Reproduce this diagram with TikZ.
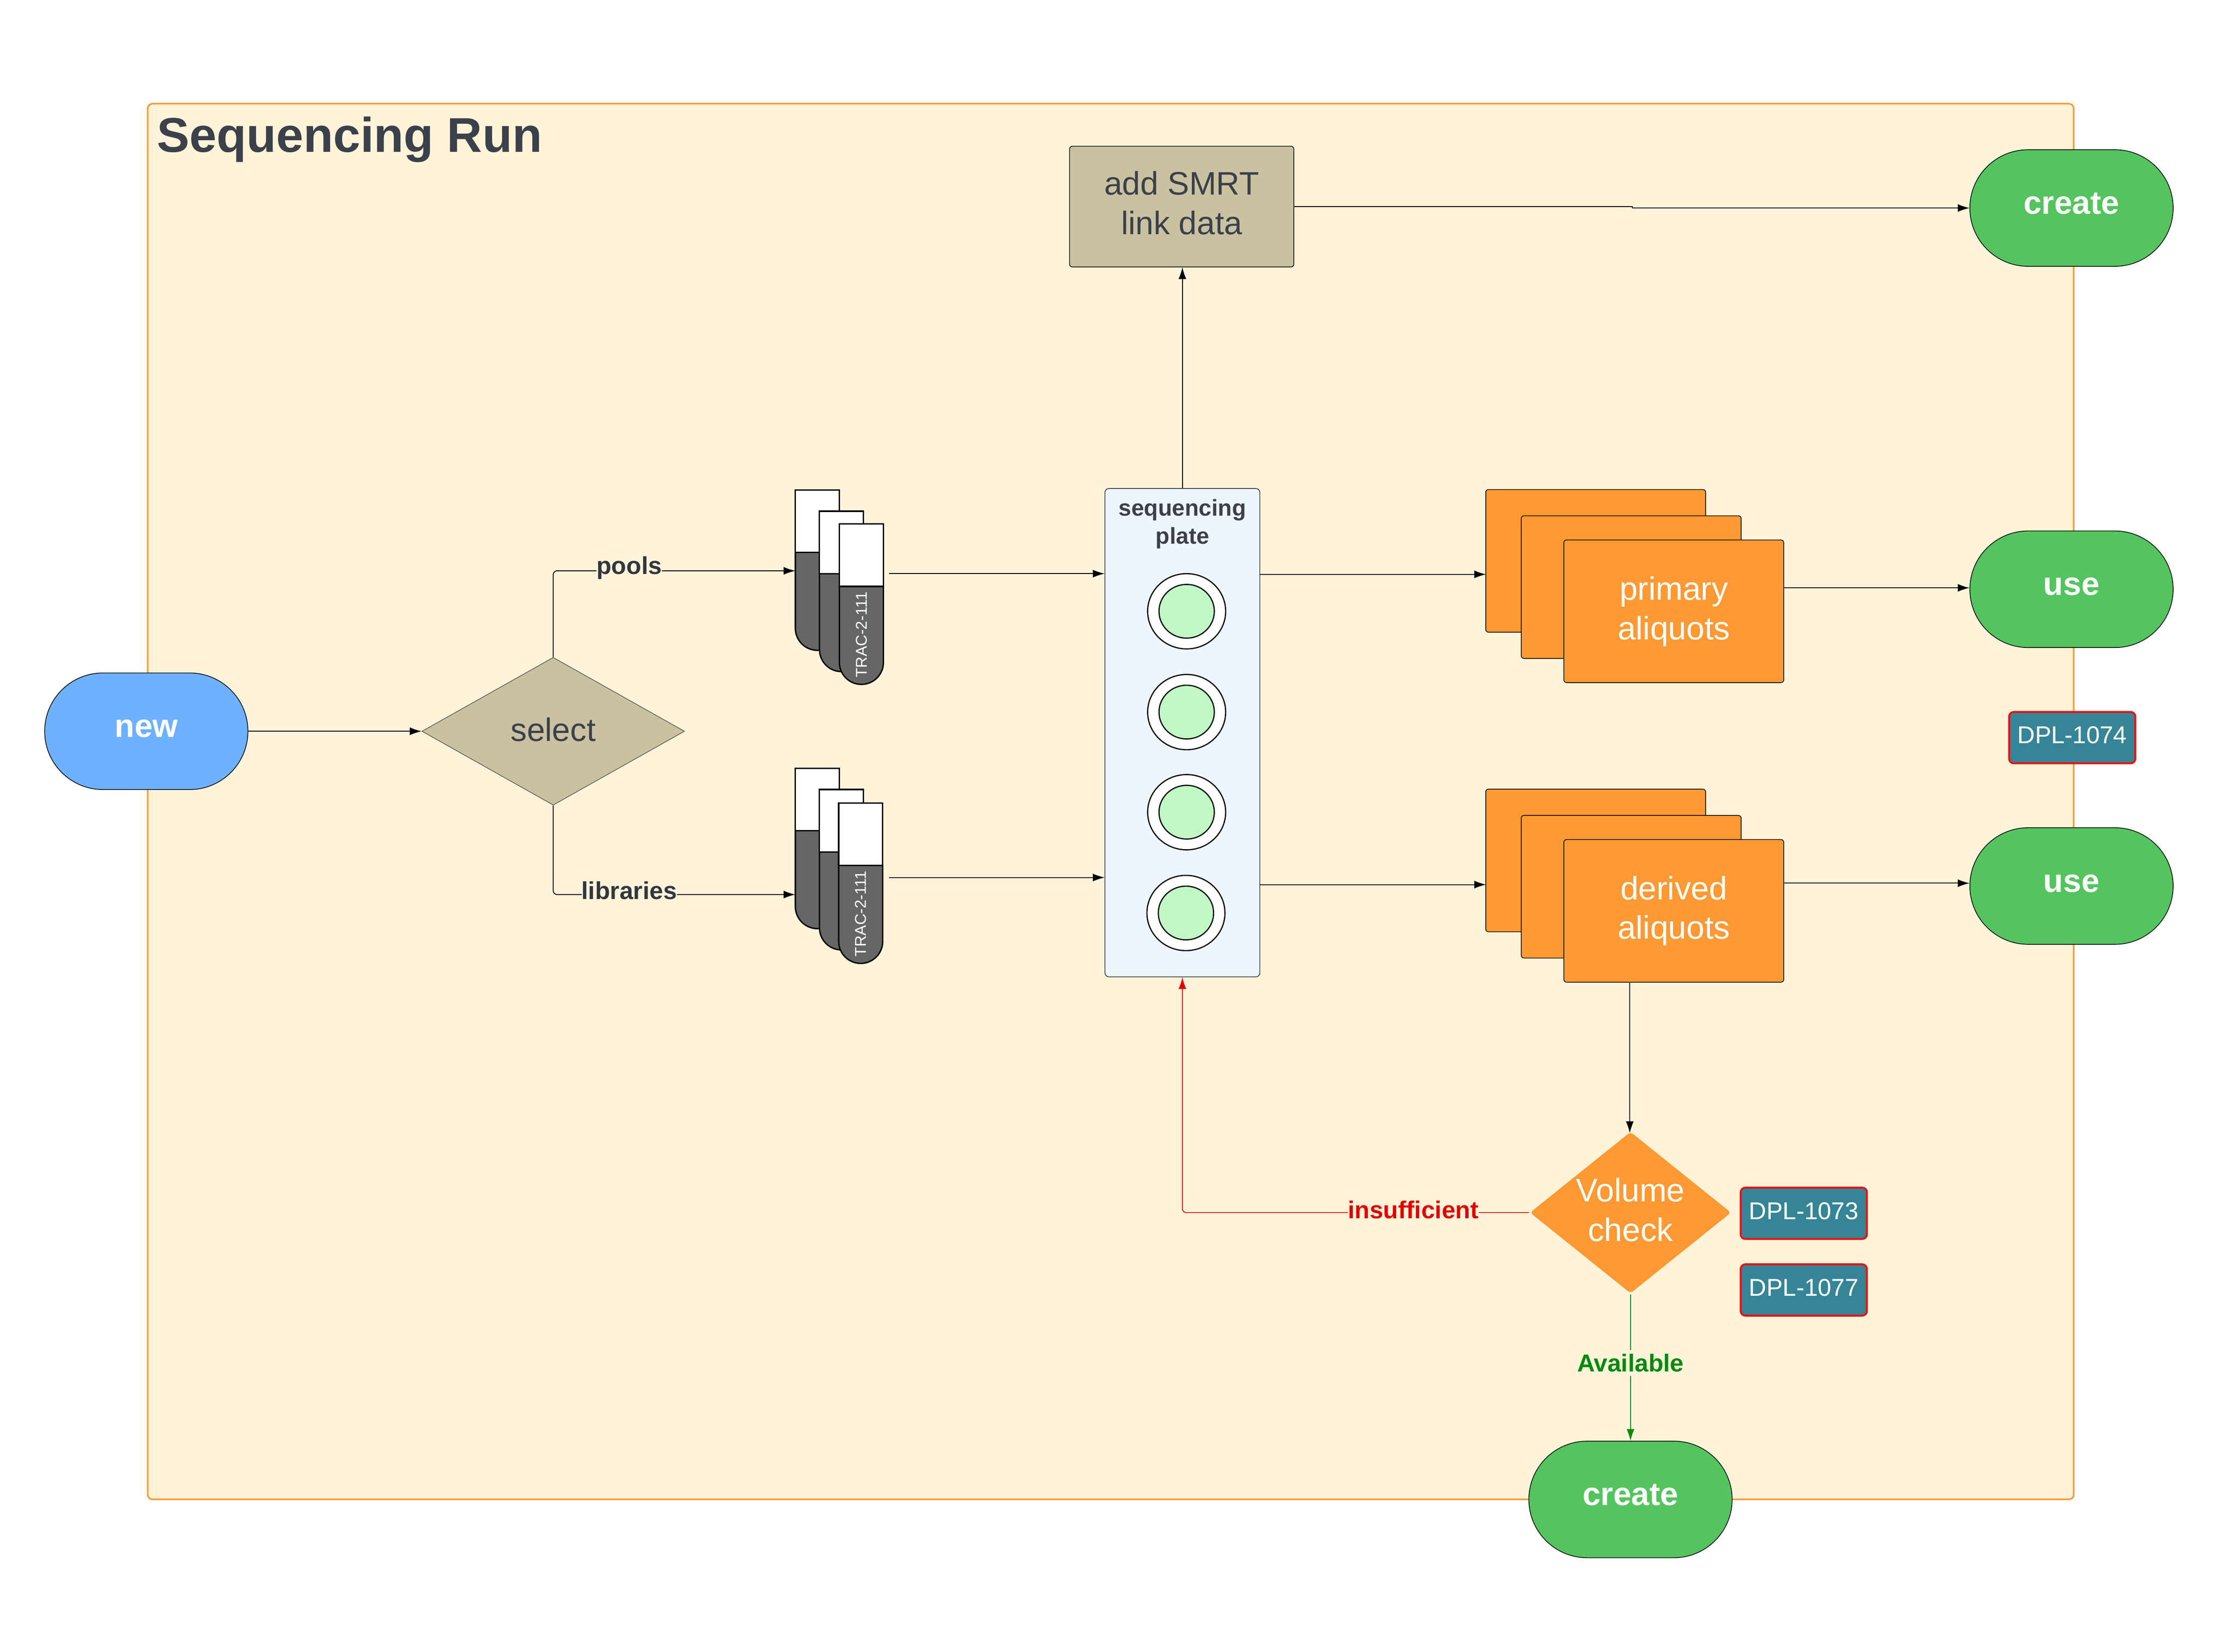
\documentclass[tikz,border=0pt]{standalone}
\usepackage{fontspec}
\setmainfont{Liberation Sans}
\usetikzlibrary{arrows.meta,shapes.geometric,shapes.misc}
\definecolor{framefill}{HTML}{FFF3D9}
\definecolor{frameline}{HTML}{FF9933}
\definecolor{inktext}{HTML}{3A414A}
\definecolor{startblue}{HTML}{6DB1FF}
\definecolor{endgreen}{HTML}{54C45E}
\definecolor{tan}{HTML}{C9C1A0}
\definecolor{platefill}{HTML}{EDF5FF}
\definecolor{wellgreen}{HTML}{C1F7C5}
\definecolor{tagfill}{HTML}{358597}
\definecolor{tagline}{HTML}{E81313}
\definecolor{okgreen}{HTML}{008A0E}
\definecolor{badred}{HTML}{E00000}
\definecolor{tubegrey}{HTML}{666666}
\tikzset{
  conn/.style={line width=0.22pt, -{Latex[length=3pt,width=2pt]}},
  terminal/.style={rounded rectangle, draw=black, line width=0.18pt, minimum width=51.85pt, minimum height=29.75pt, inner sep=0pt, text=white, font=\fontsize{8.3pt}{10pt}\selectfont\bfseries, text height=3pt, text depth=0pt},
  stack/.style={rectangle, rounded corners=0.7pt, draw=black, line width=0.18pt, fill=frameline, minimum width=56.1pt, minimum height=36.4pt, inner sep=0pt, text=white, align=center, font=\fontsize{8.3pt}{10.1pt}\selectfont},
  tag/.style={rectangle, rounded corners=1.2pt, draw=tagline, line width=0.5pt, fill=tagfill, minimum width=32.2pt, minimum height=13.1pt, inner sep=0pt, text=white, font=\fontsize{6.2pt}{7pt}\selectfont, text height=3pt, text depth=0pt},
  edgelabel/.style={fill=framefill, inner xsep=0pt, inner ysep=1pt, font=\fontsize{6.25pt}{7pt}\selectfont\bfseries},
  wellouter/.style={ellipse, draw=black, line width=0.3pt, fill=white, minimum width=19.9pt, minimum height=19.2pt, inner sep=0pt},
  wellinner/.style={ellipse, draw=black, line width=0.3pt, fill=wellgreen, minimum width=14.1pt, minimum height=13.7pt, inner sep=0pt},
  tubetop/.style={draw=black, line width=0.35pt, fill=white},
  tubebody/.style={draw=black, line width=0.35pt, fill=tubegrey},
}
\newcommand{\tube}[3]{
  \draw[tubebody] (#1,#2+44) -- (#1+31,#2+44) -- (#1+31,#2+97.5) arc[start angle=0, end angle=-180, radius=5.616pt] -- cycle;
  \draw[tubetop] (#1,#2) rectangle (#1+31,#2+44);
  \node[rotate=90, text=white, inner sep=0pt, font=\fontsize{4pt}{4.5pt}\selectfont] at (#1+15.5,#2+78) {#3};
}
\begin{document}
\begin{tikzpicture}[x=0.36231pt, y=-0.36231pt]
\useasboundingbox (0,0) rectangle (1568,1163.4);
\node[rectangle, rounded corners=1.2pt, draw=frameline, line width=0.4pt, fill=framefill, minimum width=491.3pt, minimum height=356.1pt, inner sep=0pt] (frame) at (782,564.5){};
\node[anchor=base west, inner sep=0pt, text=inktext, font=\fontsize{12.45pt}{14pt}\selectfont\bfseries] (title) at (110,107){Sequencing Run};

\node[terminal, fill=startblue] (new) at (103,515){new};
\node[diamond, draw=black!70, line width=0.15pt, fill=tan, minimum width=67pt, minimum height=37.7pt, shape aspect=1.78, inner sep=0pt, text=inktext, font=\fontsize{8.3pt}{10pt}\selectfont, text height=5pt, text depth=0pt] (select) at (389.5,515){select};

\tube{560}{345}{}
\tube{577}{360}{}
\tube{591}{369}{TRAC-2-111}
\tube{560}{541}{}
\tube{577}{556}{}
\tube{590.5}{565.5}{TRAC-2-111}
\coordinate (poolsin) at (560,402);
\coordinate (poolsout) at (626,404);
\coordinate (libsin) at (560,630);
\coordinate (libsout) at (626,618);

\node[rectangle, rounded corners=1pt, draw=inktext, line width=0.2pt, fill=platefill, minimum width=39.5pt, minimum height=124.6pt, inner sep=0pt] (plate) at (832.5,516){};
\node[align=center, inner sep=0pt, text=inktext, font=\fontsize{5.85pt}{7.2pt}\selectfont\bfseries] (platetitle) at (832.5,369){sequencing\\plate};
\node[wellouter] (well1) at (835.5,430.5){};
\node[wellinner] (core1) at (835.5,430.5){};
\node[wellouter] (well2) at (835.5,501.5){};
\node[wellinner] (core2) at (835.5,501.5){};
\node[wellouter] (well3) at (835.5,572){};
\node[wellinner] (core3) at (835.5,572){};
\node[wellouter] (well4) at (835,643){};
\node[wellinner] (core4) at (835,643){};

\node[rectangle, rounded corners=0.7pt, draw=black, line width=0.18pt, fill=tan, minimum width=57.2pt, minimum height=30.8pt, inner sep=0pt] (smrt) at (832,145.5){};
\node[align=center, inner sep=0pt, text=inktext, font=\fontsize{8.3pt}{10.2pt}\selectfont] (smrttext) at (832,143){add SMRT\\link data};

\node[stack] (prim0) at (1123.5,395){};
\node[stack] (prim1) at (1148.5,413.5){};
\node[stack] (prim2) at (1178.5,430.5){primary\\aliquots};
\node[stack] (deriv0) at (1123.5,606){};
\node[stack] (deriv1) at (1148.5,624.5){};
\node[stack] (deriv2) at (1178.5,641.5){derived\\aliquots};

\node[terminal, fill=endgreen] (createtop) at (1458.5,146.5){create};
\node[terminal, fill=endgreen] (use1) at (1458.5,415){use};
\node[terminal, fill=endgreen] (use2) at (1458.5,624){use};
\node[terminal, fill=endgreen] (createlow) at (1148,1056){create};
\node[diamond, rounded corners=0.9pt, fill=frameline, minimum width=51.4pt, minimum height=41.3pt, shape aspect=1.245, inner sep=0pt] (volume) at (1148,854){};
\node[align=center, inner sep=0pt, text=white, font=\fontsize{8.3pt}{10.1pt}\selectfont] (volumetext) at (1148,852){Volume\\check};

\node[tag] (dpl74) at (1459,519.5){DPL-1074};
\node[tag] (dpl73) at (1270,854.5){DPL-1073};
\node[tag] (dpl77) at (1270,908.5){DPL-1077};

\draw[conn] (new.east) -- (select.west);
\draw[conn, rounded corners=1pt] (select.north) |- (poolsin);
\draw[conn, rounded corners=1pt] (select.south) |- (libsin);
\node[edgelabel, text=inktext!85!black] (poolslabel) at (443,400){pools};
\node[edgelabel, text=inktext!85!black] (libslabel) at (443,627){libraries};
\draw[conn] (poolsout) -- (poolsout -| plate.west);
\draw[conn] (libsout) -- (libsout -| plate.west);
\draw[conn] (plate.north) -- (smrt.south -| plate.north);
\draw[conn] (smrt.east) -- ++(238,0) |- (createtop.west);
\draw[conn] (plate.east |- prim0.center) ++(0,9.5) -- ++(159,0);
\draw[conn] (prim2.east |- 0,414) -- (use1.west |- 0,414);
\draw[conn] (plate.east |- use2.west) ++(0,-1) -- ++(159,0);
\draw[conn] (deriv2.east |- 0,622) -- (use2.west |- 0,622);
\draw[conn] (1147.5,692) -- (1147.5,798);
\draw[conn, badred, rounded corners=1pt] (volume.west) -| (plate.south);
\node[edgelabel, text=badred] (insuflabel) at (995,852){insufficient};
\draw[conn, okgreen] (volume.south) -- (createlow.north);
\node[edgelabel, text=okgreen] (availlabel) at (1148,960){Available};
\end{tikzpicture}
\end{document}
